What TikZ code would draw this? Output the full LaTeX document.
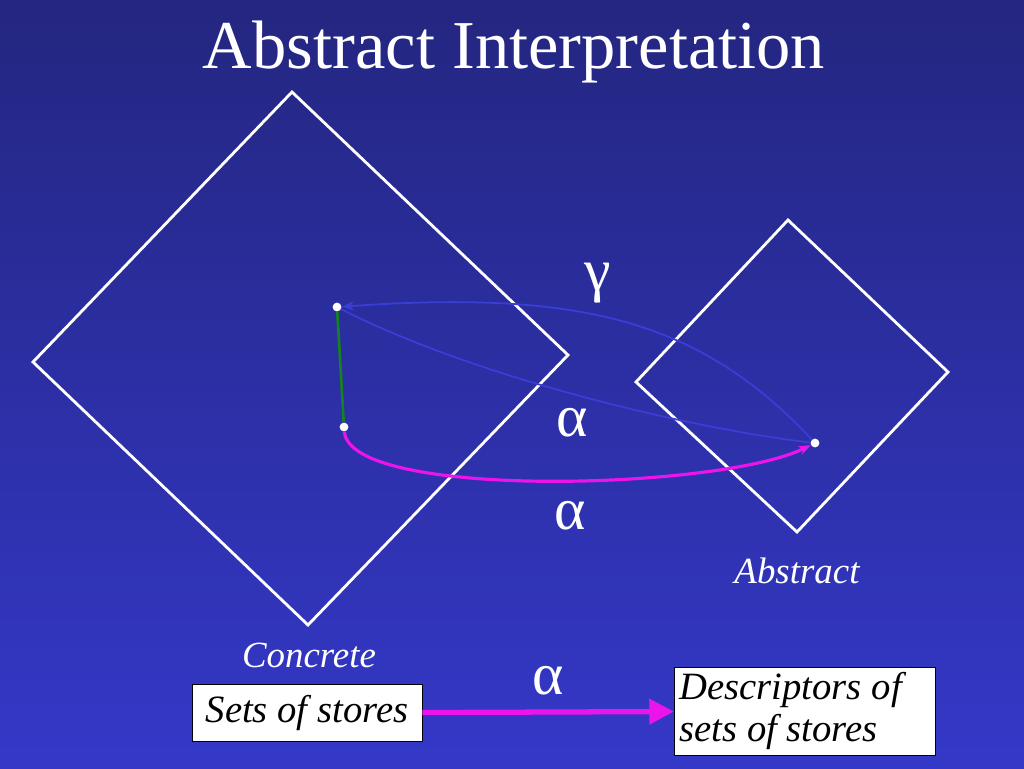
\documentclass[tikz,border=0pt]{standalone}
\usepackage{fontspec}
\setmainfont{Liberation Serif}
\usetikzlibrary{arrows.meta,positioning}
\definecolor{bgtop}{RGB}{36,38,128}
\definecolor{bgbot}{RGB}{52,56,200}
\definecolor{curveblue}{RGB}{60,60,215}
\definecolor{magentaline}{RGB}{235,20,235}
\definecolor{darkgreen}{RGB}{20,130,30}
\begin{document}
\begin{tikzpicture}[x=0.02cm, y=-0.02cm,
    frame/.style={draw=white, line width=1.6pt},
    dot/.style={circle, fill=white, inner sep=0pt, minimum size=5pt},
    greek/.style={text=white, font=\fontsize{34}{34}\selectfont},
    tag/.style={text=white, font=\fontsize{21}{24}\selectfont\itshape},
    box/.style={draw=black, fill=white, font=\fontsize{22}{24}\selectfont\itshape, align=left, inner sep=3pt}]
    \shade[top color=bgtop, bottom color=bgbot] (0,0) rectangle (1024,768);
    \useasboundingbox (0,0) rectangle (1024,768);
    \node[text=white, font=\fontsize{39}{42}\selectfont] (title) at (514,52) {Abstract Interpretation};

    % lattices
    \draw[frame] (292,92) -- (568,355) -- (308,625) -- (33,362) -- cycle;
    \draw[frame] (788,220) -- (948,372) -- (797,532) -- (636,382) -- cycle;
    \node[tag] (conc) at (309,655) {Concrete};
    \node[tag] (abst) at (797,571) {Abstract};

    % elements
    \node[dot] (c1) at (337,307) {};
    \node[dot] (c2) at (344,427) {};
    \node[dot] (a1) at (815,443) {};
    \draw[darkgreen, line width=1.5pt] (c1) -- (c2);
    \draw[curveblue, line width=1pt] (c1) .. controls (480,380) and (700,430) .. (a1);
    \draw[curveblue, line width=1pt, -{Stealth[length=7pt]}] (a1) .. controls (700,320) and (580,290) .. (c1);
    \draw[magentaline, line width=1.8pt, -{Stealth[length=7pt]}] (c2) .. controls (350,500) and (720,490) .. (a1);
    \node[greek] (gam) at (598,283) {γ};
    \node[greek] (alp1) at (572,423) {α};
    \node[greek] (alp2) at (570,516) {α};

    % legend
    \node[box, minimum width=230*0.02cm, minimum height=57*0.02cm] (sets) at (307,713) {Sets of stores};
    \node[box, minimum width=249*0.02cm, minimum height=87*0.02cm] (desc) at (805,711) {Descriptors of\\sets of stores\hspace*{30pt}};
    \node[greek] (alp3) at (548,681) {α};
    \draw[magentaline, line width=3pt, -{Triangle[length=14pt,width=14pt]}] (sets) -- (desc);
\end{tikzpicture}
\end{document}
